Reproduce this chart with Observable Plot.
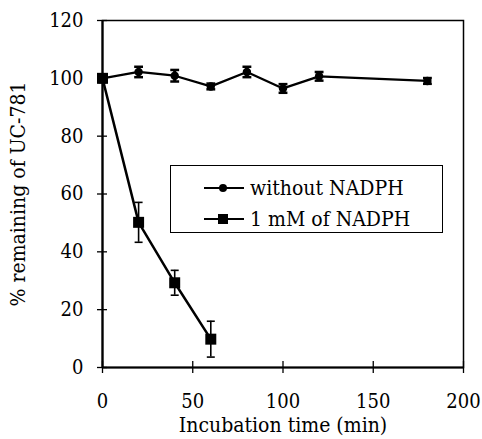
<!DOCTYPE html>
<html>
<head>
<meta charset="utf-8">
<script src="https://cdn.jsdelivr.net/npm/d3@7"></script>
<script src="https://cdn.jsdelivr.net/npm/@observablehq/plot@0.6"></script>
<style>
  html, body { margin: 0; padding: 0; background: #fff; }
  #chart { position: relative; width: 482px; height: 439px; font-family: 'DejaVu Serif Condensed', 'DejaVu Serif', serif; }
  #chart svg text { font-family: 'DejaVu Serif Condensed', 'DejaVu Serif', serif; }
  #legend { position: absolute; left: 170px; top: 165px; width: 273px; height: 68px; box-sizing: border-box;
    border: 1.3px solid #000; background: #fff; font-size: 21px; color: #000; }
  #legend .row { position: absolute; left: 32px; height: 26px; display: flex; align-items: center; white-space: nowrap; }
  #legend svg { margin-right: 5px; }
</style>
</head>
<body>
<div id="chart"></div>
<script>
const seriesNames = ["without NADPH", "1 mM of NADPH"];
const timeWithout = [0, 20, 40, 60, 80, 100, 120, 180];
const valWithout = [100, 102.2, 100.9, 97.2, 102.2, 96.5, 100.7, 99.1];
const errWithout = [1, 1.8, 2, 1, 1.8, 1.5, 1.5, 1];
const timeWith = [0, 20, 40, 60];
const valWith = [100, 50.2, 29.3, 9.8];
const errWith = [1.5, 6.9, 4.3, 6.2];
const xTicks = [0, 50, 100, 150, 200];
const yTicks = [0, 20, 40, 60, 80, 100, 120];

const without = timeWithout.map((t, i) => ({x: t, y: valWithout[i], e: errWithout[i]}));
const withN = timeWith.map((t, i) => ({x: t, y: valWith[i], e: errWith[i]}));

const hline = {draw(ctx, size) { const r = Math.sqrt(size) / 2; ctx.moveTo(-r, 0); ctx.lineTo(r, 0); }};

const plot = Plot.plot({
  width: 482,
  height: 439,
  marginLeft: 102,
  marginRight: 19,
  marginTop: 20,
  marginBottom: 72,
  style: {fontSize: "20px", color: "#000", background: "#fff"},
  x: {domain: [0, 200], ticks: xTicks, label: null},
  y: {domain: [0, 120], ticks: yTicks, label: null},
  marks: [
    Plot.frame({stroke: "#000", strokeWidth: 1.5}),
    Plot.ruleX([0], {stroke: "#000", strokeWidth: 2.2}),
    Plot.ruleY([0], {stroke: "#000", strokeWidth: 2.2}),
    Plot.axisX({ticks: xTicks, tickSize: 6, tickPadding: 20, strokeWidth: 1.3, fontSize: 20,
      label: "Incubation time (min)", labelAnchor: "center", labelArrow: "none", labelOffset: 64}),
    Plot.axisX({ticks: xTicks, tickSize: -6, tickFormat: () => "", label: null, strokeWidth: 1.3}),
    Plot.axisY({ticks: yTicks, tickSize: 5, tickPadding: 14, strokeWidth: 1.3, fontSize: 20,
      label: "% remaining of UC-781", labelAnchor: "center", labelArrow: "none", labelOffset: 92}),
    Plot.axisY({ticks: yTicks, tickSize: -5, tickFormat: () => "", label: null, strokeWidth: 1.3}),
    Plot.line(without, {x: "x", y: "y", stroke: "#000", strokeWidth: 2.3}),
    Plot.line(withN, {x: "x", y: "y", stroke: "#000", strokeWidth: 2.5}),
    Plot.ruleX(without, {x: "x", y1: d => d.y - d.e, y2: d => d.y + d.e, stroke: "#000", strokeWidth: 3}),
    Plot.dot(without, {x: "x", y: d => d.y + d.e, symbol: hline, r: 5, stroke: "#000", strokeWidth: 2.5}),
    Plot.dot(without, {x: "x", y: d => d.y - d.e, symbol: hline, r: 5, stroke: "#000", strokeWidth: 2.5}),
    Plot.dot(without, {x: "x", y: "y", r: 4.2, fill: "#000", stroke: "none"}),
    Plot.ruleX(withN, {x: "x", y1: d => d.y - d.e, y2: d => d.y + d.e, stroke: "#000", strokeWidth: 1.6}),
    Plot.dot(withN, {x: "x", y: d => d.y + d.e, symbol: hline, r: 4.5, stroke: "#000", strokeWidth: 1.6}),
    Plot.dot(withN, {x: "x", y: d => d.y - d.e, symbol: hline, r: 4.5, stroke: "#000", strokeWidth: 1.6}),
    Plot.dot(withN, {x: "x", y: "y", symbol: "square", r: 6.2, fill: "#000", stroke: "none"})
  ]
});
plot.querySelectorAll("g[aria-label='x-axis label'] text, g[aria-label='y-axis label'] text").forEach(t => t.style.fontSize = "21px");
const chart = document.getElementById("chart");
chart.appendChild(plot);

const legend = document.createElement("div");
legend.id = "legend";
const syms = ["circle", "square"];
seriesNames.forEach((name, i) => {
  const row = document.createElement("div");
  row.className = "row";
  row.style.top = (i === 0 ? 9 : 40) + "px";
  const marker = syms[i] === "circle"
    ? '<circle cx="20" cy="8" r="4" fill="#000"/>'
    : '<rect x="15" y="3" width="10" height="10" fill="#000"/>';
  row.innerHTML = '<svg width="42" height="16"><line x1="1" x2="41" y1="8" y2="8" stroke="#000" stroke-width="2"/>' + marker + '</svg>';
  const span = document.createElement("span");
  span.textContent = name;
  row.appendChild(span);
  legend.appendChild(row);
});
chart.appendChild(legend);
</script>
</body>
</html>
